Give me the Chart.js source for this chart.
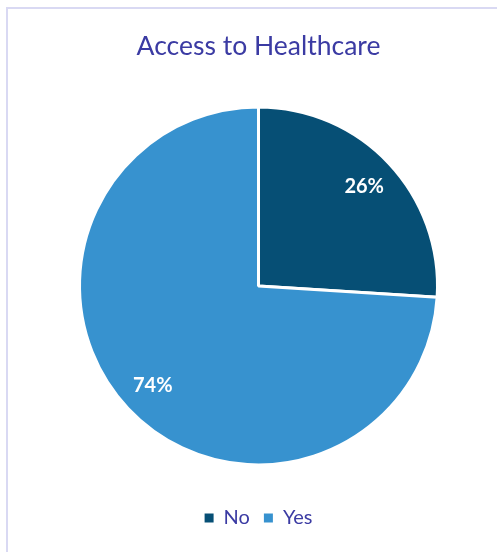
<!DOCTYPE html>
<html>
<head>
<meta charset="utf-8">
<script src="https://cdn.jsdelivr.net/npm/chart.js@4"></script>
<style>
  html, body { margin: 0; padding: 0; background: #ffffff; }
  #frame { position: absolute; left: 6px; top: 7px; width: 520px; height: 560px; border: 2px solid #D9D9F3; box-sizing: border-box; }
  #wrap { position: absolute; left: 0; top: 0; width: 497px; height: 552px; }
</style>
</head>
<body>
<div id="frame"></div>
<div id="wrap"><canvas id="c" width="497" height="552"></canvas></div>
<script>
const categories = ["No", "Yes"];
const values = [26, 74];
const labelsText = ["26%", "74%"];
const colors = ["#064F75", "#3792CF"];
const titleText = "Access to Healthcare";

const labelPlugin = {
  id: 'sliceLabels',
  afterDatasetsDraw(chart) {
    const ctx = chart.ctx;
    const meta = chart.getDatasetMeta(0);
    ctx.save();
    ctx.fillStyle = '#ffffff';
    ctx.font = 'bold 20px Lato, "Open Sans", sans-serif';
    ctx.textAlign = 'center';
    ctx.textBaseline = 'middle';
    meta.data.forEach((arc, i) => {
      const p = arc.getProps(['x','y','startAngle','endAngle','outerRadius'], true);
      const mid = (p.startAngle + p.endAngle) / 2;
      const r = p.outerRadius * 0.81;
      ctx.fillText(labelsText[i], p.x + Math.cos(mid) * r, p.y + Math.sin(mid) * r);
    });
    ctx.restore();
  }
};

new Chart(document.getElementById('c'), {
  type: 'pie',
  data: {
    labels: categories,
    datasets: [{
      data: values,
      backgroundColor: colors,
      borderColor: '#ffffff',
      borderWidth: 3
    }]
  },
  options: {
    responsive: false,
    animation: false,
    layout: { padding: { left: 78, right: 58, top: 0, bottom: 14 } },
    plugins: {
      title: {
        display: true,
        text: titleText,
        color: '#3B3BA3',
        font: { family: 'Lato, "Open Sans", sans-serif', size: 26.5, weight: 'normal' },
        padding: { top: 31, bottom: 15 }
      },
      legend: {
        position: 'bottom',
        labels: {
          color: '#3B3BA3',
          font: { family: 'Lato, "Open Sans", sans-serif', size: 20 },
          boxWidth: 9,
          boxHeight: 9,
          padding: 14,
          generateLabels(chart) {
            return categories.map((name, i) => ({
              text: name,
              fillStyle: colors[i],
              strokeStyle: colors[i],
              lineWidth: 0,
              fontColor: '#3B3BA3',
              hidden: false,
              index: i
            }));
          }
        }
      },
      tooltip: { enabled: false }
    }
  },
  plugins: [labelPlugin]
});
</script>
</body>
</html>
